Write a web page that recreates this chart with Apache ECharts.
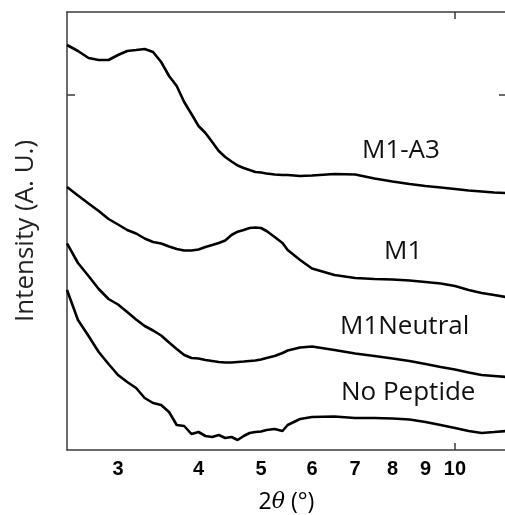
<!DOCTYPE html>
<html>
<head>
<meta charset="utf-8">
<script src="https://cdn.jsdelivr.net/npm/echarts@6/dist/echarts.min.js"></script>
<style>
  html, body { margin: 0; padding: 0; background: #fff; }
  #chart { width: 505px; height: 515px; }
</style>
</head>
<body>
<div id="chart"></div>
<script>
var myChart = echarts.init(document.getElementById('chart'));

// 2theta sample positions (degrees)
const theta = [2.5, 2.6, 2.7, 2.8, 2.9, 3.0, 3.1, 3.2, 3.3, 3.4, 3.5, 3.6, 3.7, 3.8, 3.9,
    4.0, 4.1, 4.2, 4.3, 4.4, 4.5, 4.6, 4.7, 4.8, 4.9, 5.0, 5.1, 5.25, 5.4, 5.5, 5.75,
    6.0, 6.5, 7.0, 7.5, 8.0, 8.5, 9.0, 9.5, 10, 10.5, 11, 11.5, 12];

// intensities (arbitrary units, curves are offset)
const m1a3 = [405, 399, 392, 390, 390, 395, 399, 400, 401, 398, 388, 374, 364, 348, 336,
    324, 317, 308, 299, 293, 288.5, 284.5, 282, 280, 278, 277.5, 276.5, 275.5, 275, 275, 274,
    274.5, 276, 275.5, 271.5, 268.5, 266, 264, 262.5, 261, 259.5, 258.5, 257.5, 257];
const m1 = [263, 254.5, 246.5, 239, 231, 225.5, 220, 216.5, 211.5, 208, 206.5, 203.5, 201, 199.5, 199.5,
    200.5, 203, 205, 207, 209.5, 215, 218.3, 220, 222, 222.5, 222, 219, 213, 207, 200, 190,
    181.5, 175, 172, 171, 170.5, 169.5, 168, 166.5, 164, 160, 157, 155, 153];
const m1Neutral = [206.7, 187, 174, 161, 151, 145.5, 138, 130.5, 124, 119.5, 114.5, 107.5, 101, 95, 92,
    91.5, 90, 89, 88, 87.5, 87.5, 88, 88.5, 89, 89.5, 90.5, 92, 94, 97, 99.5, 102.5,
    103.5, 100, 96.5, 94, 91.5, 89, 86, 83, 80.5, 77.5, 75, 74, 73];
const noPeptide = [160, 130, 114, 98, 86, 75, 68, 62, 52, 47, 45, 38, 25, 24, 16,
    18, 14, 13, 15, 12, 13, 10, 14, 17, 18, 18.5, 20, 21, 19, 25, 31,
    33, 33.5, 32, 32, 31.5, 30.5, 28, 25, 22, 19, 17, 18, 19];

const tickLabels = [3, 4, 5, 6, 7, 8, 9, 10];
const seriesNames = ['M1-A3', 'M1', 'M1Neutral', 'No Peptide'];

// x axis is logarithmic: plot log10(theta)
const lg = v => Math.log10(v);
const toPairs = ys => theta.map((t, i) => [lg(t), ys[i]]);

const axisCol = '#3c3c3c';
const lineStyle = {color: '#000', width: 2.6};

var option = {
    animation: false,
    grid: {left: 67, top: 12, right: -1, bottom: 65, outerBoundsMode: 'none'},
    xAxis: [
        {
            type: 'value',
            min: lg(2.5),
            max: lg(12),
            axisLine: {show: true, onZero: false, lineStyle: {color: axisCol, width: 1.5}},
            axisTick: {show: true, inside: true, length: 7, customValues: [lg(10)], lineStyle: {color: axisCol, width: 1.5}},
            axisLabel: {
                customValues: tickLabels.map(lg),
                formatter: v => String(Math.round(Math.pow(10, v))),
                fontFamily: 'Liberation Sans',
                fontWeight: 'bold',
                fontSize: 20,
                color: '#000',
                margin: 9
            },
            splitLine: {show: false},
            name: '{n|2}{i|θ}{n| (°)}',
            nameLocation: 'middle',
            nameGap: 41,
            nameTextStyle: {
                rich: {
                    n: {fontFamily: 'Open Sans', fontSize: 23, color: '#000'},
                    i: {fontFamily: 'DejaVu Serif', fontStyle: 'italic', fontSize: 22, color: '#000'}
                }
            }
        },
        {
            type: 'value',
            position: 'top',
            min: lg(2.5),
            max: lg(12),
            axisLine: {show: true, onZero: false, lineStyle: {color: axisCol, width: 1.5}},
            axisTick: {show: true, inside: true, length: 7, customValues: [lg(10)], lineStyle: {color: axisCol, width: 1.5}},
            axisLabel: {show: false},
            splitLine: {show: false}
        }
    ],
    yAxis: [
        {
            type: 'value',
            min: 0,
            max: 438,
            axisLine: {show: true, onZero: false, lineStyle: {color: axisCol, width: 1.5}},
            axisTick: {show: true, inside: true, length: 8, customValues: [355], lineStyle: {color: axisCol, width: 1.5}},
            axisLabel: {show: false},
            splitLine: {show: false},
            name: 'Intensity (A. U.)',
            nameLocation: 'middle',
            nameGap: 28,
            nameTextStyle: {fontFamily: 'Open Sans', fontSize: 26, color: '#222'}
        },
        {
            type: 'value',
            position: 'right',
            min: 0,
            max: 438,
            axisLine: {show: true, onZero: false, lineStyle: {color: axisCol, width: 1.5}},
            axisTick: {show: true, inside: true, length: 7, customValues: [355], lineStyle: {color: axisCol, width: 1.5}},
            axisLabel: {show: false},
            splitLine: {show: false}
        }
    ],
    series: [m1a3, m1, m1Neutral, noPeptide].map((ys, i) => ({
        name: seriesNames[i],
        type: 'line',
        xAxisIndex: 0,
        yAxisIndex: 0,
        showSymbol: false,
        lineStyle: lineStyle,
        data: toPairs(ys)
    })),
    graphic: [
        {type: 'text', x: 362, y: 151, style: {text: 'M1-A3', font: '26px "Open Sans"', fill: '#111', verticalAlign: 'middle'}},
        {type: 'text', x: 384, y: 252, style: {text: 'M1', font: '26px "Open Sans"', fill: '#111', verticalAlign: 'middle'}},
        {type: 'text', x: 340, y: 327, style: {text: 'M1Neutral', font: '26px "Open Sans"', fill: '#111', verticalAlign: 'middle'}},
        {type: 'text', x: 341, y: 393, style: {text: 'No Peptide', font: '26px "Open Sans"', fill: '#111', verticalAlign: 'middle'}}
    ]
};

myChart.setOption(option);
</script>
</body>
</html>
